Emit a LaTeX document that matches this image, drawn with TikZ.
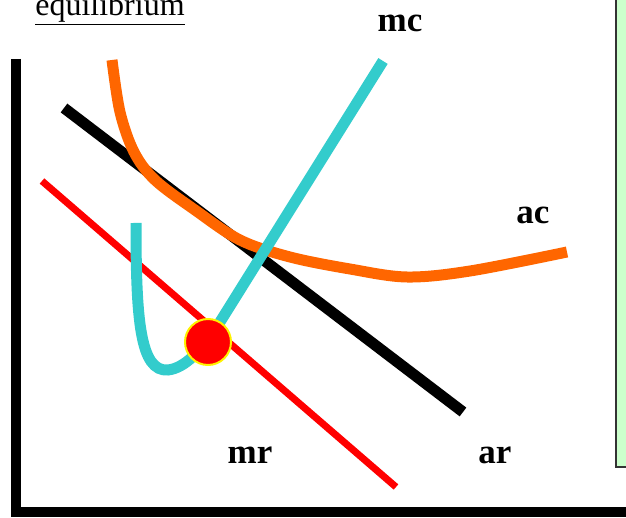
\documentclass[tikz,border=0pt]{standalone}
\usepackage{fontspec}
\setmainfont{Liberation Serif}
\definecolor{mccyan}{HTML}{33CCCC}
\definecolor{acorange}{HTML}{FF6600}
\definecolor{boxgreen}{HTML}{CCFFCC}
\tikzset{
  curvelabel/.style={font=\fontsize{35}{40}\selectfont\bfseries, anchor=base, inner sep=0pt},
  costcurve/.style={line width=11pt}
}
\begin{document}
\begin{tikzpicture}[x=1pt, y=-1pt]
    \useasboundingbox (0,0) rectangle (626,518);
    % Side box
    \draw[fill=boxgreen, draw=black!80, line width=2pt] (616,-10) rectangle (640,467);
    % Title
    \node[font=\fontsize{32}{36}\selectfont, anchor=base, inner sep=0pt] (title) at (110,16) {\underline{equilibrium}};
    % Axes
    \draw[line width=10pt] (16,59) -- (16,512) -- (640,512);

    % Demand (ar) and marginal revenue (mr)
    \draw[black, line width=11pt] (64,108) -- (463,412);
    \draw[red, line width=7pt] (42,181) -- (396,487);

    % Average cost
    \draw[acorange, costcurve] plot[smooth, tension=0.55] coordinates
        {(112,60) (120,112) (134,152) (155,180) (195,210) (240,240) (290,257) (350,269) (407,277) (470,271) (567,252)};

    % Marginal cost
    \draw[mccyan, costcurve] (136,223) .. controls (136,320) and (140,372) .. (168,370)
        .. controls (185,368) and (200,351) .. (215,330) -- (383,61);

    % Profit maximising point
    \node[circle, fill=red, draw=yellow, line width=2pt, minimum size=46pt, inner sep=0pt] (eq) at (208,342) {};

    % Labels
    \node[curvelabel] (mc) at (400,32) {mc};
    \node[curvelabel] (ac) at (533,224) {ac};
    \node[curvelabel] (mr) at (250,463) {mr};
    \node[curvelabel] (ar) at (495,463) {ar};
\end{tikzpicture}
\end{document}
